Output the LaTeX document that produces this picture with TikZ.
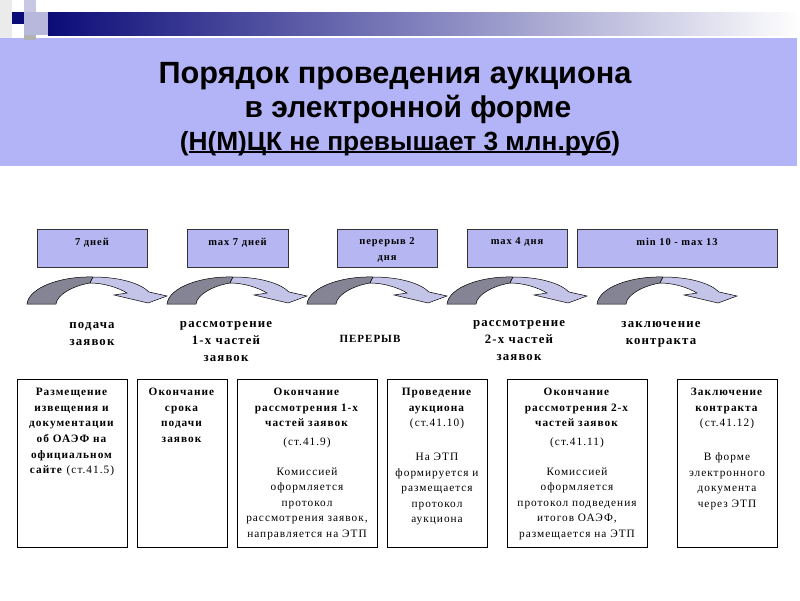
\documentclass[tikz,border=0pt]{standalone}
\usepackage{fontspec}
\setmainfont{Liberation Serif}
\newfontfamily\titlefont{Liberation Sans}
\newfontfamily\lsfont[LetterSpace=9]{Liberation Serif}
\newcommand\myul[1]{\setbox0\hbox{#1}\rlap{\rule[-2.8pt]{\wd0}{1.4pt}}\box0}
\definecolor{band}{RGB}{179,179,247}
\definecolor{tboxfill}{RGB}{182,182,242}
\definecolor{navy}{RGB}{12,12,120}
\definecolor{midbar}{RGB}{130,130,190}
\definecolor{darkarr}{RGB}{132,132,148}
\definecolor{lightarr}{RGB}{196,196,232}
\definecolor{sq1}{RGB}{200,200,228}
\definecolor{sq2}{RGB}{184,184,220}
\begin{document}
\begin{tikzpicture}[x=1pt,y=-1pt,
  tbox/.style={draw=black!80, line width=0.6pt, fill=tboxfill, inner sep=0pt},
  bbox/.style={draw=black, line width=0.8pt, fill=white, inner sep=0pt},
  ttext/.style={anchor=north, inner sep=0pt, align=center, font=\lsfont\bfseries\fontsize{10.5}{16}\selectfont},
  btext/.style={anchor=north, inner sep=0pt, align=center, font=\lsfont\fontsize{11.3}{15.6}\selectfont},
  lbl/.style={inner sep=0pt, align=center, font=\lsfont\bfseries\fontsize{12.8}{17}\selectfont},
  carrow/.pic={
    \filldraw[fill=darkarr, draw=black, line width=0.5pt]
      (0,27) .. controls (2,10) and (35,-1) .. (66,0) -- (63,6)
      .. controls (45,9) and (30,18) .. (29,27) -- cycle;
    \filldraw[fill=lightarr, draw=black, line width=0.5pt]
      (66,0) .. controls (92,0) and (113,6) .. (122,15) -- (140,19) -- (121,26)
      -- (87,18) -- (100,16) .. controls (90,10) and (76,6) .. (63,6) -- cycle;
  }]
\useasboundingbox (0,0) rectangle (800,600);
\fill[white] (0,0) rectangle (800,600);
% header decoration
\fill[band] (0,38) rectangle (797,166);
\fill[black!8] (0,0) rectangle (12,38);
\fill[sq1] (24,0) rectangle (36,12);
\fill[sq2] (24,12) rectangle (48,35);
\fill[black!30] (24,35) rectangle (36,40);
\fill[navy] (12,12) rectangle (24,24);
\shade[left color=navy, right color=white, middle color=midbar] (48,12) rectangle (800,35);
% title
\node[inner sep=0pt, font=\titlefont\bfseries\fontsize{30.7}{34}\selectfont, anchor=base] (title1) at (395,83) {Порядок проведения аукциона};
\node[inner sep=0pt, font=\titlefont\bfseries\fontsize{30}{34}\selectfont, anchor=base] (title2) at (408,117) {в электронной форме};
\node[inner sep=0pt, font=\titlefont\bfseries\fontsize{26.3}{30}\selectfont, anchor=base] (title3) at (400,150) {(\myul{Н(М)ЦК не превышает 3 млн.руб})};
% top boxes
\node[tbox, minimum width=110pt, minimum height=38pt] (t1) at (92,248) {};
\node[tbox, minimum width=101pt, minimum height=38pt] (t2) at (237.5,248) {};
\node[tbox, minimum width=100pt, minimum height=38pt] (t3) at (387,248) {};
\node[tbox, minimum width=100pt, minimum height=38pt] (t4) at (517,248) {};
\node[tbox, minimum width=200pt, minimum height=38pt] (t5) at (677,248) {};
\node[ttext] (tt1) at ([yshift=-9pt]t1.north) {7 дней};
\node[ttext] (tt2) at ([yshift=-9pt]t2.north) {max 7 дней};
\node[ttext] (tt3) at ([yshift=-9pt]t3.north) {перерыв 2\\дня};
\node[ttext] (tt4) at ([yshift=-9pt]t4.north) {max 4 дня};
\node[ttext] (tt5) at ([yshift=-9pt]t5.north) {min 10 - max 13};
% curved arrows
\pic at (27,277) {carrow};
\pic at (167,277) {carrow};
\pic at (307,277) {carrow};
\pic at (447,277) {carrow};
\pic at (597,277) {carrow};
% labels
\node[lbl, anchor=north] (l1) at (92,322) {подача\\заявок};
\node[lbl, anchor=north] (l2) at (226,321) {рассмотрение\\1-х частей\\заявок};
\node[lbl, font=\lsfont\bfseries\fontsize{11}{14}\selectfont] (l3) at (370,339) {ПЕРЕРЫВ};
\node[lbl, anchor=north] (l4) at (519,320) {рассмотрение\\2-х частей\\заявок};
\node[lbl, anchor=north] (l5) at (661,321) {заключение\\контракта};
% bottom boxes
\node[bbox, minimum width=110pt, minimum height=168pt] (b1) at (72,463) {};
\node[bbox, minimum width=90pt, minimum height=168pt] (b2) at (182,463) {};
\node[bbox, minimum width=140pt, minimum height=168pt] (b3) at (307,463) {};
\node[bbox, minimum width=100pt, minimum height=168pt] (b4) at (437,463) {};
\node[bbox, minimum width=140pt, minimum height=168pt] (b5) at (577,463) {};
\node[bbox, minimum width=100pt, minimum height=168pt] (b6) at (727,463) {};
\node[btext] (bt1) at ([yshift=-9.5pt]b1.north) {\textbf{Размещение}\\\textbf{извещения и}\\\textbf{документации}\\\textbf{об ОАЭФ на}\\\textbf{официальном}\\\textbf{сайте} (ст.41.5)};
\node[btext] (bt2) at ([yshift=-9.5pt]b2.north) {\textbf{Окончание}\\\textbf{срока}\\\textbf{подачи}\\\textbf{заявок}};
\node[btext] (bt3) at ([yshift=-9.5pt]b3.north) {\textbf{Окончание}\\\textbf{рассмотрения 1-х}\\\textbf{частей заявок}\\[3pt](ст.41.9)\\[14pt]Комиссией\\оформляется\\протокол\\рассмотрения заявок,\\направляется на ЭТП};
\node[btext] (bt4) at ([yshift=-9.5pt]b4.north) {\textbf{Проведение}\\\textbf{аукциона}\\(ст.41.10)\\[18pt]На ЭТП\\формируется и\\размещается\\протокол\\аукциона};
\node[btext] (bt5) at ([yshift=-9.5pt]b5.north) {\textbf{Окончание}\\\textbf{рассмотрения 2-х}\\\textbf{частей заявок}\\[3pt](ст.41.11)\\[14pt]Комиссией\\оформляется\\протокол подведения\\итогов ОАЭФ,\\размещается на ЭТП};
\node[btext] (bt6) at ([yshift=-9.5pt]b6.north) {\textbf{Заключение}\\\textbf{контракта}\\(ст.41.12)\\[18pt]В форме\\электронного\\документа\\через ЭТП};
\end{tikzpicture}
\end{document}
